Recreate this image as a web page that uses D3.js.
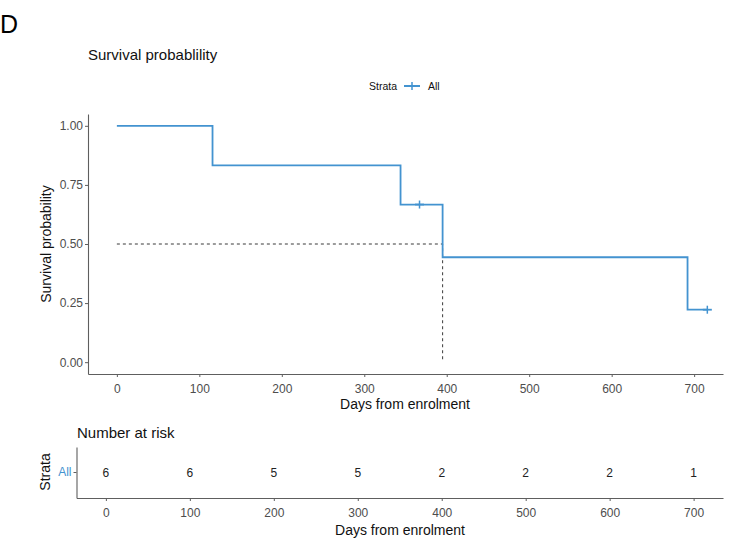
<!DOCTYPE html>
<html>
<head>
<meta charset="utf-8">
<script src="https://cdn.jsdelivr.net/npm/d3@7"></script>
<style>
  body { margin: 0; background: #fff; }
  svg text { font-family: "Liberation Sans", Arial, sans-serif; }
</style>
</head>
<body>
<div id="chart"></div>
<script>
// Kaplan-Meier steps (time, survival)
const stepTimes = [0, 116, 344, 395, 692];
const stepSurv = [1, 0.833, 0.667, 0.444, 0.222];
const endTime = 716;
const censorTimes = [367, 716];
const censorSurv = [0.667, 0.222];
const medianTime = 395;

const xTicks = [0, 100, 200, 300, 400, 500, 600, 700];
const yTicks = [0, 0.25, 0.5, 0.75, 1];
const riskTimes = [0, 100, 200, 300, 400, 500, 600, 700];
const riskCounts = [6, 6, 5, 5, 2, 2, 2, 1];
const strata = ["All"];

const lineColor = "#4393d0";
const axisColor = "#5e5e5e";
const tickText = "#4d4d4d";

const svg = d3.select("#chart").append("svg")
    .attr("width", 735)
    .attr("height", 542);

// panel label and title
svg.append("text").attr("x", 0).attr("y", 33)
    .attr("font-size", 25).attr("fill", "#000").text("D");
svg.append("text").attr("x", 88).attr("y", 60)
    .attr("font-size", 15).attr("fill", "#111").text("Survival probablility");

// legend
const leg = svg.append("g").attr("transform", "translate(369,90)");
leg.append("text").attr("font-size", 10.5).attr("fill", "#111").text("Strata");
leg.append("line").attr("x1", 35).attr("x2", 51).attr("y1", -4).attr("y2", -4)
    .attr("stroke", lineColor).attr("stroke-width", 2);
leg.append("line").attr("x1", 43).attr("x2", 43).attr("y1", -8).attr("y2", 0)
    .attr("stroke", lineColor).attr("stroke-width", 1.5);
leg.append("text").attr("x", 59).attr("font-size", 10.5).attr("fill", "#111").text("All");

// main plot
const x = d3.scaleLinear().domain([-35, 735]).range([88, 723]);
const y = d3.scaleLinear().domain([-0.05, 1.05]).range([374, 114]);

const xAxis = svg.append("g")
    .attr("transform", "translate(0,374)")
    .call(d3.axisBottom(x).tickValues(xTicks).tickSize(3).tickSizeOuter(0));
const yAxis = svg.append("g")
    .attr("transform", "translate(88,0)")
    .call(d3.axisLeft(y).tickValues(yTicks).tickSize(3).tickSizeOuter(0)
        .tickFormat(d3.format(".2f")));

[xAxis, yAxis].forEach(a => {
    a.select(".domain").attr("stroke", axisColor).attr("stroke-width", 1.1);
    a.selectAll(".tick line").attr("stroke", axisColor);
    a.selectAll(".tick text").attr("fill", tickText).attr("font-size", 12)
        .attr("font-family", "Liberation Sans, Arial, sans-serif");
});
xAxis.selectAll(".tick text").attr("dy", "1.05em");
yAxis.selectAll(".tick text").attr("x", -5);

svg.append("text").attr("x", 405).attr("y", 409).attr("text-anchor", "middle")
    .attr("font-size", 14).attr("fill", "#111").text("Days from enrolment");
svg.append("text").attr("transform", "translate(51,244) rotate(-90)")
    .attr("text-anchor", "middle").attr("font-size", 14).attr("fill", "#111")
    .text("Survival probability");

// median lines
svg.append("path")
    .attr("d", `M${x(0)},${y(0.5)}H${x(medianTime)}V${y(0)}`)
    .attr("fill", "none").attr("stroke", "#222").attr("stroke-width", 0.9)
    .attr("stroke-dasharray", "3,3");

// survival curve
const pts = stepTimes.map((t, i) => ({ t: t, s: stepSurv[i] }));
pts.push({ t: endTime, s: stepSurv[stepSurv.length - 1] });
svg.append("path")
    .datum(pts)
    .attr("fill", "none")
    .attr("stroke", lineColor)
    .attr("stroke-width", 1.8)
    .attr("d", d3.line().curve(d3.curveStepAfter).x(d => x(d.t)).y(d => y(d.s)));

// censor marks
const cens = svg.append("g");
censorTimes.forEach((t, i) => {
    const cx = x(t), cy = y(censorSurv[i]);
    cens.append("line").attr("x1", cx - 4.5).attr("x2", cx + 4.5).attr("y1", cy).attr("y2", cy)
        .attr("stroke", lineColor).attr("stroke-width", 1.8);
    cens.append("line").attr("x1", cx).attr("x2", cx).attr("y1", cy - 4).attr("y2", cy + 4)
        .attr("stroke", lineColor).attr("stroke-width", 1.5);
});

// risk table
svg.append("text").attr("x", 77).attr("y", 438)
    .attr("font-size", 15).attr("fill", "#111").text("Number at risk");

const xr = d3.scaleLinear().domain([-35, 735]).range([76.5, 723]);
const yr = d3.scaleBand().domain(strata).range([498, 447]);

const xrAxis = svg.append("g")
    .attr("transform", "translate(0,498)")
    .call(d3.axisBottom(xr).tickValues(xTicks).tickSize(3).tickSizeOuter(0));
const yrAxis = svg.append("g")
    .attr("transform", "translate(76.5,0)")
    .call(d3.axisLeft(yr).tickSize(3).tickSizeOuter(0));

[xrAxis, yrAxis].forEach(a => {
    a.select(".domain").attr("stroke", axisColor).attr("stroke-width", 1.1);
    a.selectAll(".tick line").attr("stroke", axisColor);
    a.selectAll(".tick text").attr("font-size", 12)
        .attr("font-family", "Liberation Sans, Arial, sans-serif");
});
xrAxis.selectAll(".tick text").attr("fill", tickText).attr("dy", "1.05em");
yrAxis.selectAll(".tick text").attr("fill", lineColor).attr("x", -5);

svg.append("g").selectAll("text")
    .data(riskTimes)
    .enter()
    .append("text")
    .attr("x", d => xr(d))
    .attr("y", yr("All") + yr.bandwidth() / 2)
    .attr("dy", "0.35em")
    .attr("text-anchor", "middle")
    .attr("font-size", 12)
    .attr("fill", "#222")
    .text((d, i) => riskCounts[i]);

svg.append("text").attr("x", 400).attr("y", 535).attr("text-anchor", "middle")
    .attr("font-size", 14).attr("fill", "#111").text("Days from enrolment");
svg.append("text").attr("transform", "translate(50,472) rotate(-90)")
    .attr("text-anchor", "middle").attr("font-size", 14).attr("fill", "#111")
    .text("Strata");
</script>
</body>
</html>
